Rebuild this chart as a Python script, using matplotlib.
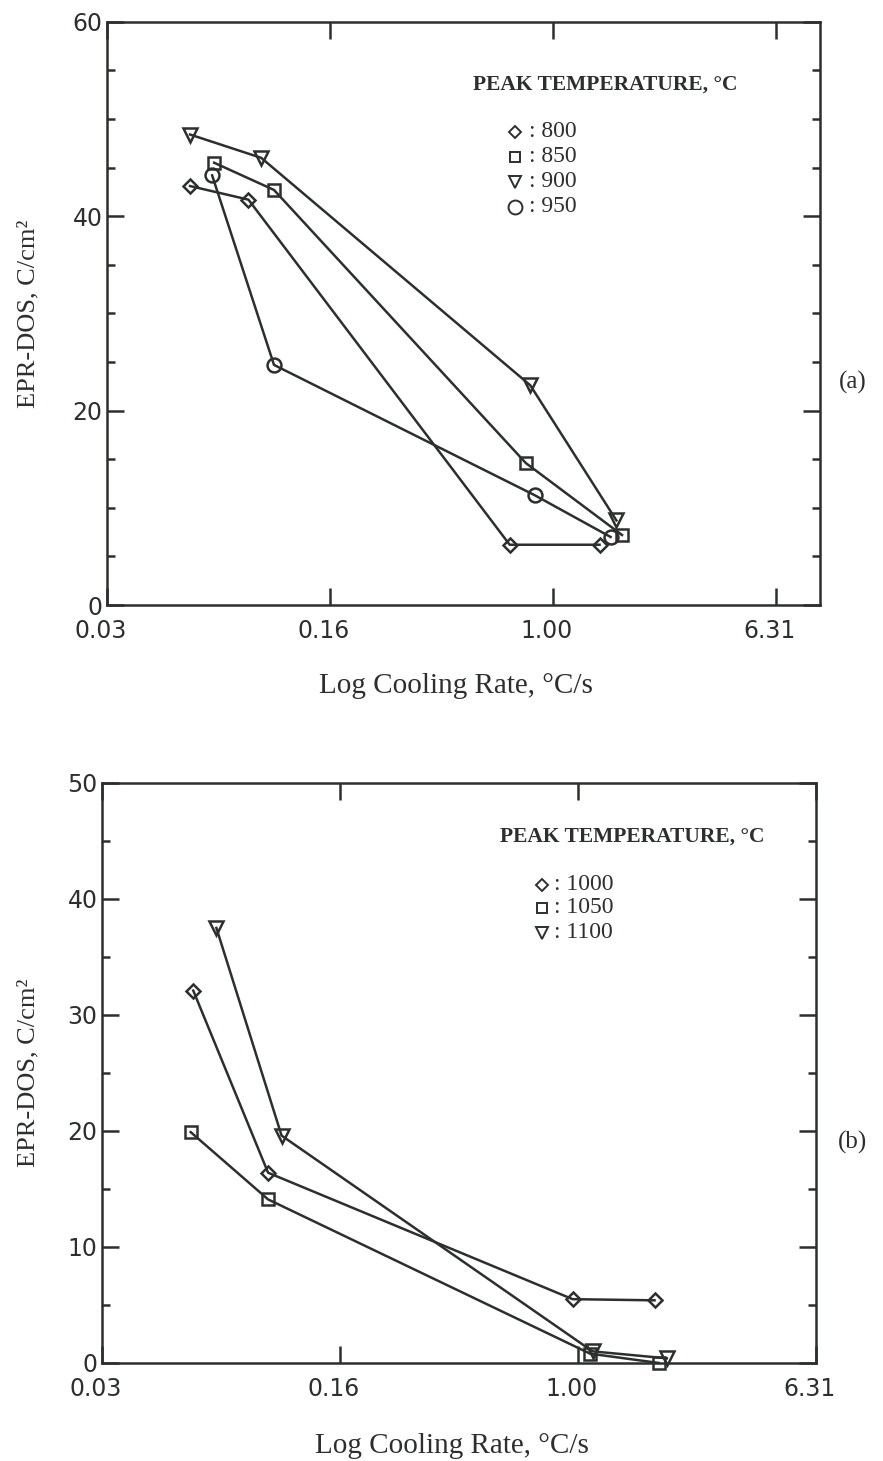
import numpy as np
import matplotlib
matplotlib.use('Agg')
import matplotlib.pyplot as plt
import matplotlib.transforms as mtransforms

# panel (a): peak temperatures 800-950 C
x800 = [0.050, 0.081, 0.70, 1.47]
y800 = [43.1, 41.7, 6.2, 6.2]
x850 = [0.061, 0.100, 0.80, 1.77]
y850 = [45.5, 42.7, 14.6, 7.2]
x900 = [0.050, 0.090, 0.83, 1.69]
y900 = [48.4, 46.0, 22.6, 8.7]
x950 = [0.060, 0.100, 0.86, 1.61]
y950 = [44.2, 24.7, 11.3, 7.0]

# panel (b): peak temperatures 1000-1100 C
x1000 = [0.051, 0.091, 0.96, 1.81]
y1000 = [32.1, 16.4, 5.5, 5.4]
x1050 = [0.050, 0.091, 1.10, 1.87]
y1050 = [19.9, 14.1, 0.8, 0.0]
x1100 = [0.061, 0.101, 1.12, 1.99]
y1100 = [37.5, 19.6, 1.0, 0.4]

xtick_pos = [10 ** -1.6, 10 ** -0.8, 1.0, 10 ** 0.8]
xtick_lab = ['0.03', '0.16', '1.00', '6.31']

ink = '#2c302c'
serif = 'Liberation Serif'

markers = {'D': 7, 's': 8, 'v': 10, 'o': 10}
key_markers = {'D': 6, 's': 7, 'v': 8, 'o': 10}


def style_axes(ax, ymax, ystep, xmax):
    ax.set_xscale('log')
    ax.set_xlim(10 ** -1.6, xmax)
    ax.set_ylim(0, ymax)
    ax.set_xticks(xtick_pos)
    ax.set_xticklabels(xtick_lab)
    ax.minorticks_off()
    ax.set_yticks(np.arange(0, ymax + 1, ystep))
    ax.set_yticks(np.arange(0, ymax + 1, 5), minor=True)
    ax.tick_params(which='both', direction='in', top=True, right=True,
                   color=ink, width=1.8, labelcolor=ink, labelsize=17)
    ax.tick_params(axis='x', which='major', length=12, pad=10)
    ax.tick_params(axis='y', which='major', length=12, pad=3)
    ax.tick_params(axis='y', which='minor', length=6)
    for sp in ax.spines.values():
        sp.set_color(ink)
        sp.set_linewidth(1.8)
    shift = mtransforms.ScaledTranslation(-6 / 100, 0, ax.figure.dpi_scale_trans)
    for lab in ax.get_xticklabels():
        lab.set_transform(lab.get_transform() + shift)
    ax.set_ylabel('EPR-DOS, C/cm²', family=serif, fontsize=19, color=ink)
    ax.set_xlabel('Log Cooling Rate, °C/s', family=serif, fontsize=21, color=ink)


def draw(ax, xs, ys, m):
    ax.plot(xs, ys, color=ink, lw=1.8, marker=m, markersize=markers[m],
            markerfacecolor='none', markeredgecolor=ink, markeredgewidth=1.8,
            clip_on=False, zorder=3)


def key(ax, title, tx, ty, mx, cx, rows, labels, syms):
    ax.text(tx, ty, title, transform=ax.transAxes, ha='center', va='center',
            family=serif, fontsize=15.5, color=ink, fontweight='bold')
    for ry, lab, m in zip(rows, labels, syms):
        ax.plot([mx], [ry], transform=ax.transAxes, marker=m,
                markersize=key_markers[m], markerfacecolor='none',
                markeredgecolor=ink, markeredgewidth=1.4, clip_on=False)
        ax.text(cx, ry, ': ' + lab, transform=ax.transAxes, ha='left',
                va='center', family=serif, fontsize=17, color=ink)


fig = plt.figure(figsize=(8.83, 14.61), dpi=100, facecolor='white')

ax1 = fig.add_axes([0.1208, 0.5859, 0.8079, 0.3992])
style_axes(ax1, 60, 20, 10 ** 0.958)
draw(ax1, x800, y800, 'D')
draw(ax1, x850, y850, 's')
draw(ax1, x900, y900, 'v')
draw(ax1, x950, y950, 'o')
ax1.yaxis.set_label_coords(-0.094, 0.5)
ax1.xaxis.set_label_coords(0.49, -0.117)
key(ax1, 'PEAK TEMPERATURE, °C', 0.699, 0.8915, 0.5724, 0.5925,
    [0.8115, 0.7686, 0.7257, 0.6828], ['800', '850', '900', '950'],
    ['D', 's', 'v', 'o'])

ax2 = fig.add_axes([0.1152, 0.0671, 0.8089, 0.3970])
style_axes(ax2, 50, 10, 10 ** 0.8)
draw(ax2, x1000, y1000, 'D')
draw(ax2, x1050, y1050, 's')
draw(ax2, x1100, y1100, 'v')
ax2.yaxis.set_label_coords(-0.087, 0.5)
ax2.xaxis.set_label_coords(0.49, -0.12)
key(ax2, 'PEAK TEMPERATURE, °C', 0.7431, 0.9074, 0.616, 0.633,
    [0.8241, 0.7845, 0.7414], ['1000', '1050', '1100'], ['D', 's', 'v'])

fig.text(0.966, 0.7379, '(a)', family=serif, fontsize=18, color=ink,
         ha='center', va='center')
fig.text(0.966, 0.2183, '(b)', family=serif, fontsize=18, color=ink,
         ha='center', va='center')

fig.savefig('out.png', dpi=100, facecolor='white')
